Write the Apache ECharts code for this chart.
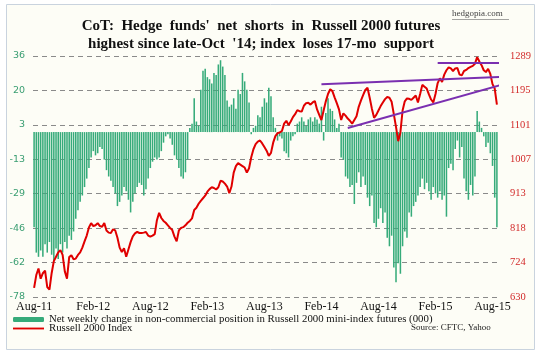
<!DOCTYPE html>
<html>
<head>
<meta charset="utf-8">
<script src="https://cdn.jsdelivr.net/npm/echarts@6/dist/echarts.min.js"></script>
<style>
  html, body { margin: 0; padding: 0; background: #fff; }
  #chart { width: 540px; height: 354px; }
</style>
</head>
<body>
<div id="chart"></div>
<script>
// weekly CFTC report dates, Aug-11 .. Aug-15 (Tuesdays)
const weeks = [];
for (let t = Date.UTC(2011, 7, 2), k = 0; k < 212; k++, t += 7 * 86400000) {
  weeks.push(new Date(t).toISOString().slice(0, 10));
}

// net weekly change, non-commercial position (000)
const netChange = [
  -45, -57, -59, -56, -59, -53, -57, -52, -58, -61,
  -55, -60, -53, -57, -52, -55, -49, -51, -47, -41,
  -37, -33, -30, -26, -22, -17, -12, -9, -11, -10,
  -7, -8, -13, -18, -21, -23, -26, -29, -35, -33,
  -30, -26, -28, -32, -38, -33, -29, -26, -24, -25,
  -30, -27, -22, -17, -14, -12, -13, -12, -9, -5,
  -2, -1, -3, -6, -11, -13, -17, -21, -22, -19,
  -13, 2, 4, 16, 5, 3, 20, 29, 30, 26,
  25, 23, 28, 27, 32, 34, 31, 27, 15, 12,
  13, 16, 11, 20, 18, 28, 24, 20, 14, -1,
  2, 3, 8, 7, 12, 16, 14, 21, 17, 7,
  2, -4, -2, -3, -9, -10, -12, -4, -2, -1,
  4, 5, 7, 5, 3, 6, 7, 5, 7, 6,
  4, 12, -4, 9, 16, 11, 10, 6, 2, 4,
  -12, -13, -21, -22, -26, -25, -34, -24, -19, -26,
  -21, -25, -31, -35, -30, -43, -45, -41, -36, -43,
  -38, -50, -54, -49, -64, -71, -62, -67, -54, -47,
  -50, -38, -40, -35, -33, -30, -26, -22, -27, -24,
  -28, -32, -26, -29, -31, -28, -32, -30, -40, -17,
  -15, -18, -8, -4, -12, -7, -22, -28, -32, -25,
  -30, -21, 10, 5, 2, -2, -7, -5, -10, -16,
  -31, -45
];

// Russell 2000 weekly close
const russell = [
  655, 690, 708, 680, 695, 702, 657, 650, 695, 728,
  740, 752, 758, 745, 700, 680, 739, 744, 733, 735,
  745, 752, 765, 782, 798, 820, 832, 824, 826, 832,
  824, 822, 832, 812, 806, 805, 815, 812, 792, 765,
  753, 763, 740, 760, 780, 796, 804, 808, 805, 805,
  806, 808, 798, 795, 798, 802, 840, 860, 846, 838,
  833, 826, 819, 813, 795, 782, 812, 819, 821, 826,
  833, 838, 845, 868, 874, 885, 893, 900, 907, 918,
  925, 930, 928, 924, 930, 948, 946, 940, 932, 914,
  932, 970, 988, 996, 992, 988, 984, 970, 982, 1012,
  1034, 1048, 1055, 1058, 1050, 1040, 1030, 1016, 1024, 1052,
  1070, 1078, 1080, 1084, 1104, 1112, 1100, 1110, 1122, 1130,
  1141, 1138, 1137, 1153, 1160, 1161, 1156, 1162, 1166, 1143,
  1128, 1114, 1140, 1165, 1185, 1198, 1193, 1176, 1160, 1143,
  1114, 1132, 1126, 1118, 1112, 1104, 1114, 1124, 1150, 1167,
  1182, 1196, 1202, 1175, 1145, 1120, 1128, 1140, 1152, 1162,
  1171, 1177, 1175, 1164, 1130, 1095, 1056, 1080, 1140, 1165,
  1173, 1172, 1169, 1175, 1181, 1162, 1185, 1210, 1205, 1200,
  1184, 1170, 1162, 1185, 1215, 1228, 1218, 1238, 1250, 1258,
  1255, 1248, 1255, 1256, 1238, 1236, 1248, 1251, 1256, 1259,
  1262, 1268, 1286, 1274, 1264, 1250, 1245, 1254, 1240, 1212,
  1200, 1156
];

const leftTicks = ["-78", "-62", "-46", "-29", "-13", "3", "20", "36"];
const rightTicks = ["630", "724", "818", "913", "1007", "1101", "1195", "1289"];

// hand-drawn trend lines: [week index, index level]
const trendTop = [[184, 1270], [214, 1270]];
const trendMid = [[131, 1212], [213, 1232]];
const trendLow = [[143, 1092], [213, 1210]];

const monthNames = ["Jan", "Feb", "Mar", "Apr", "May", "Jun", "Jul", "Aug", "Sep", "Oct", "Nov", "Dec"];
const serif = "'Liberation Serif', 'DejaVu Serif', serif";

const lMin = -78, lMax = 36, rMin = 630, rMax = 1289;
const lStep = (lMax - lMin) / 7, rStep = (rMax - rMin) / 7;

const barName = "Net weekly change in non-commercial position in Russell 2000 mini-index futures (000)";
const lineName = "Russell 2000 Index";

const myChart = echarts.init(document.getElementById("chart"));
const option = {
  animation: false,
  graphic: [
    {
      type: "rect", z: -10, silent: true,
      shape: { x: 6.5, y: 4.5, width: 528, height: 345 },
      style: { fill: "#fdfdf6", stroke: "#c9d3de", lineWidth: 1 }
    },
    {
      type: "text", x: 261, y: 17,
      style: {
        text: "CoT:  Hedge  funds'  net  shorts  in  Russell 2000 futures\nhighest since late-Oct  '14; index  loses 17-mo  support",
        font: "bold 15px " + serif, fill: "#111", textAlign: "center", lineHeight: 18
      }
    },
    {
      type: "text", x: 452, y: 9,
      style: { text: "hedgopia.com", font: "9px " + serif, fill: "#444" }
    },
    {
      type: "line", shape: { x1: 452, y1: 19.5, x2: 509, y2: 19.5 },
      style: { stroke: "#666", lineWidth: 0.6 }
    },
    {
      type: "text", x: 411, y: 323,
      style: { text: "Source: CFTC, Yahoo", font: "9px " + serif, fill: "#222" }
    }
  ],
  legend: {
    orient: "vertical",
    left: 13,
    top: 314,
    padding: 0,
    itemGap: -2,
    itemWidth: 31,
    itemHeight: 5,
    textStyle: { fontFamily: serif, fontSize: 10.8, color: "#111", lineHeight: 8 },
    data: [
      { name: barName },
      { name: lineName, icon: "path://M0,0H100V6H0Z" }
    ]
  },
  grid: { left: 33, right: 42, top: 56, bottom: 57 },
  xAxis: {
    type: "category",
    data: weeks,
    min: 0,
    max: weeks.length - 1,
    axisLine: { show: false },
    axisTick: { show: false },
    axisLabel: {
      margin: 4,
      fontFamily: serif,
      fontSize: 12,
      color: "#111",
      interval: (index, value) => {
        const d = new Date(value);
        const m = d.getUTCMonth();
        return (m === 1 || m === 7) && d.getUTCDate() <= 7;
      },
      formatter: (value) => {
        const d = new Date(value);
        return monthNames[d.getUTCMonth()] + "-" + String(d.getUTCFullYear()).slice(2);
      }
    },
    splitLine: { show: false }
  },
  yAxis: [
    {
      type: "value",
      min: lMin,
      max: lMax,
      interval: lStep,
      axisLine: { show: false },
      axisTick: { show: false },
      axisLabel: {
        margin: 8,
        fontFamily: "'DejaVu Sans', sans-serif",
        fontSize: 9.5,
        color: "#3a9e72",
        formatter: (v) => leftTicks[Math.round((v - lMin) / lStep)]
      },
      splitLine: { lineStyle: { color: "#8a8a8a", type: [5, 4], width: 1 } }
    },
    {
      type: "value",
      min: rMin,
      max: rMax,
      interval: rStep,
      axisLine: { show: false },
      axisTick: { show: false },
      axisLabel: {
        margin: 12,
        fontFamily: serif,
        fontSize: 10.5,
        color: "#d22a2a",
        formatter: (v) => rightTicks[Math.round((v - rMin) / rStep)]
      },
      splitLine: { show: false }
    }
  ],
  series: [
    {
      name: barName,
      type: "bar",
      data: netChange,
      barCategoryGap: "30%",
      itemStyle: { color: "#36ab7a" }
    },
    {
      name: lineName,
      type: "line",
      yAxisIndex: 1,
      data: russell,
      symbol: "none",
      lineStyle: { color: "#e00000", width: 2 },
      itemStyle: { color: "#e00000" },
      z: 3
    },
    { type: "line", yAxisIndex: 1, data: trendTop, symbol: "none", clip: false, silent: true, z: 4,
      lineStyle: { color: "#7a2fb0", width: 2 } },
    { type: "line", yAxisIndex: 1, data: trendMid, symbol: "none", clip: false, silent: true, z: 4,
      lineStyle: { color: "#7a2fb0", width: 2 } },
    { type: "line", yAxisIndex: 1, data: trendLow, symbol: "none", clip: false, silent: true, z: 4,
      lineStyle: { color: "#7a2fb0", width: 2 } }
  ]
};
myChart.setOption(option);
</script>
</body>
</html>
